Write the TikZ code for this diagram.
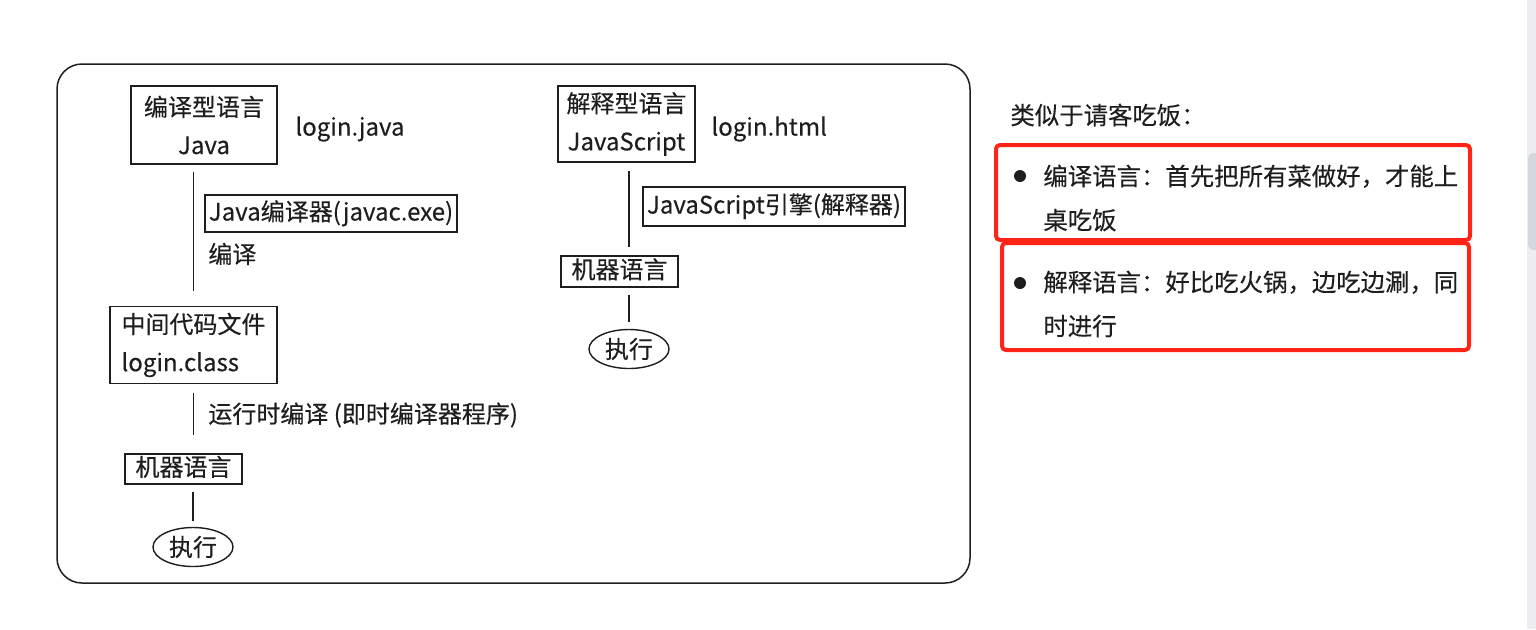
\documentclass[tikz,border=0pt]{standalone}
\usepackage{fontspec}
\setmainfont{Noto Sans CJK SC}[FakeBold=0.3]
\usetikzlibrary{shapes.geometric}
\definecolor{inkdark}{HTML}{1E1E1E}
\definecolor{markred}{HTML}{FF2416}
\definecolor{barbg}{HTML}{EDEDF1}
\definecolor{barthumb}{HTML}{D5D7DF}

\tikzset{
  box/.style={draw=inkdark, line width=0.7pt, inner xsep=2pt, inner ysep=1pt,
    text=inkdark, font=\fontsize{12}{19}\selectfont},
  oneline/.style={text height=9.5pt, text depth=2.5pt},
  plain/.style={inner sep=0pt, anchor=west, text=inkdark, font=\fontsize{12}{19}\selectfont},
  run/.style={draw=inkdark, ellipse, line width=0.7pt, minimum width=40pt,
    minimum height=19.5pt, inner sep=0pt, text=inkdark, font=\fontsize{12}{19}\selectfont},
  link/.style={draw=inkdark, line width=0.7pt},
  redbox/.style={draw=markred, line width=2pt, rounded corners=2pt},
  note/.style={inner sep=0pt, anchor=west, align=left, text=inkdark,
    font=\fontsize{12.2}{22}\selectfont}
}

\begin{document}
\begin{tikzpicture}[x=0.5pt, y=-0.5pt]
  \useasboundingbox (0,0) rectangle (1536,629);

  % outer frame
  \draw[inkdark, line width=0.75pt, rounded corners=12.5pt] (57,64) rectangle (970,583);

  % compiled language
  \node[box, minimum width=73pt, minimum height=39pt, align=center] (comp) at (204,125) {编译型语言\\Java};
  \node[plain] (jfile) at (295,129) {login.java};
  \node[box, oneline, minimum width=124pt, minimum height=18.5pt] (javac) at (331,213.5) {Java编译器(javac.exe)};
  \node[plain] (compile) at (208,254) {编译};
  \node[box, minimum width=83.5pt, minimum height=38.5pt, align=left] (mid) at (193.5,345) {中间代码文件\\login.class};
  \node[plain] (jit) at (208,415) {运行时编译 (即时编译器程序)};
  \node[box, oneline, minimum width=58.5pt, minimum height=15pt] (mach) at (183.5,469) {机器语言};
  \node[run] (exec) at (193,547) {执行};

  \draw[link, shorten <=3.5pt, shorten >=7.5pt] (mid.north |- comp.south) -- (mid.north);
  \draw[link, shorten <=4.5pt, shorten >=9pt] (mid.south) -- (mid.south |- mach.north);
  \draw[link, shorten <=3.5pt, shorten >=3pt] (exec.north |- mach.south) -- (exec.north);

  % interpreted language
  \node[box, minimum width=68.5pt, minimum height=38pt, align=center] (interp) at (626.5,124) {解释型语言\\JavaScript};
  \node[plain] (hfile) at (711,129) {login.html};
  \node[box, oneline, minimum width=131pt, minimum height=19.5pt] (engine) at (774,206.5) {JavaScript引擎(解释器)};
  \node[box, oneline, minimum width=58.5pt, minimum height=15.5pt] (mach2) at (619.5,271.5) {机器语言};
  \node[run] (exec2) at (629,349) {执行};

  \draw[link, shorten <=4pt, shorten >=4pt] (exec2.north |- interp.south) -- (exec2.north |- mach2.north);
  \draw[link, shorten <=3.5pt, shorten >=3.5pt] (exec2.north |- mach2.south) -- (exec2.north);

  % notes on the right
  \node[note] (title) at (1010,115) {类似于请客吃饭：};
  \node[note] (ctext) at (1043,198) {编译语言：首先把所有菜做好，才能上\\桌吃饭};
  \fill[inkdark] (1020,176) circle (3pt);
  \draw[redbox] (996,145) rectangle (1470,240);
  \node[note] (itext) at (1043,304) {解释语言：好比吃火锅，边吃边涮，同\\时进行};
  \fill[inkdark] (1020,283) circle (3pt);
  \draw[redbox] (1002,243) rectangle (1469,350);

  % scroll bar
  \fill[barbg] (1527,0) rectangle (1536,629);
  \fill[barthumb, rounded corners=3pt] (1528,153) rectangle (1546,250);
\end{tikzpicture}
\end{document}
